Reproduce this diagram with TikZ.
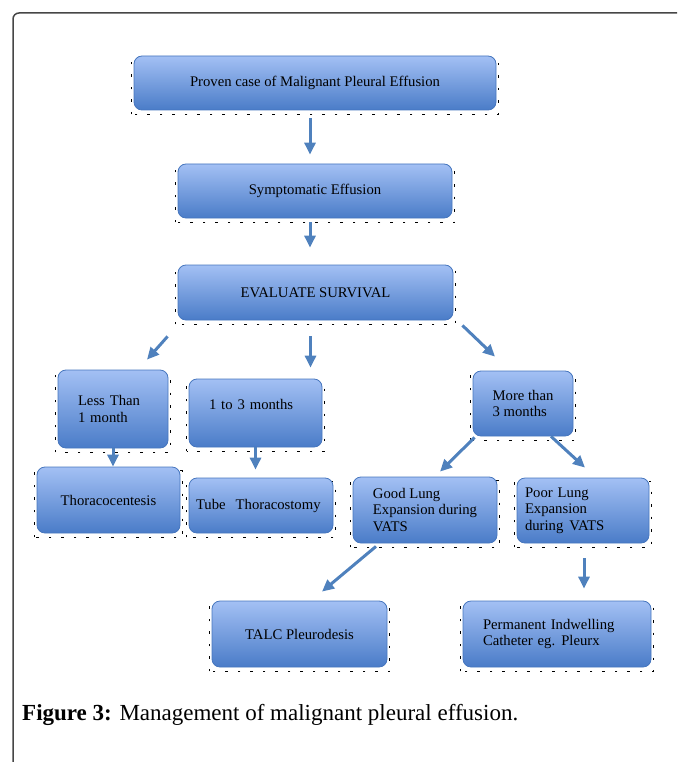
\documentclass[tikz,border=0pt]{standalone}
\usepackage{fontspec}
\setmainfont{Liberation Serif}
\usepackage{tikz}
\usetikzlibrary{arrows.meta,positioning,backgrounds}
\definecolor{boxtop}{RGB}{163,192,244}
\definecolor{boxbot}{RGB}{74,124,200}
\definecolor{boxline}{RGB}{70,118,190}
\definecolor{arrowblue}{RGB}{79,129,189}
\definecolor{framegray}{RGB}{70,70,70}

\begin{document}
\begin{tikzpicture}[x=1pt, y=-1pt,
    box/.style={draw=boxline, line width=0.8pt, rounded corners=8pt, top color=boxtop, bottom color=boxbot, font=\fontsize{14.7}{16.5}\selectfont, inner sep=0pt},
    arr/.style={-{Triangle[length=12pt,width=11pt]}, draw=arrowblue, line width=3pt},
    dotbox/.style={black, line width=1.4pt, dash pattern=on 2.5pt off 10pt}]
    \useasboundingbox (0,0) rectangle (677,762);

    % outer frame
    \draw[framegray, line width=1.5pt, rounded corners=6pt] (13,762) -- (13,13) -- (677,13);

    % boxes
    \node (pc) [box, minimum width=362pt, minimum height=54pt] at (315,83) {Proven case of Malignant Pleural Effusion};
    \node (se) [box, minimum width=274pt, minimum height=54pt] at (315,191) {Symptomatic Effusion};
    \node (es) [box, minimum width=275pt, minimum height=55pt] at (315.5,292.5) {\raisebox{-6pt}{EVALUATE SURVIVAL}};

    \node (lt) [box, minimum width=110pt, minimum height=78pt, text width=70pt, align=left] at (113,409) {Less Than\\1 month};
    \node (ot) [box, minimum width=133pt, minimum height=68pt, text width=93pt, align=left] at (255.5,413) {1 to 3 months\\\mbox{}};
    \node (mt) [box, minimum width=100pt, minimum height=65pt, align=left] at (523,403.5) {More than\\3 months};

    \node (tc) [box, minimum width=143pt, minimum height=66pt] at (108.5,500) {Thoracocentesis};
    \node (tt) [box, minimum width=144pt, minimum height=55pt, text width=130pt, align=left] at (261,505.5) {Tube\hspace{10pt}Thoracostomy};
    \node (gl) [box, minimum width=144pt, minimum height=66pt, align=left] at (425,510) {Good Lung\\Expansion during\\VATS};
    \node (pl) [box, minimum width=132pt, minimum height=65pt, text width=116pt, align=left] at (583,510.5) {Poor Lung\\Expansion\\during\hspace{6pt}VATS};

    \node (talc) [box, minimum width=175pt, minimum height=66pt] at (299.5,634) {TALC Pleurodesis};
    \node (pic) [box, minimum width=188pt, minimum height=66pt, text width=148pt, align=left] at (557,634) {Permanent Indwelling\\Catheter eg.\hspace{6pt}Pleurx};

    % dotted edges behind the boxes
    \begin{scope}[on background layer]
        \foreach \n in {pc,se,es,lt,ot,mt,tc,tt,gl,pl,talc,pic}
            \draw[dotbox] ([shift={(-2,4)}]\n.south west) rectangle ([shift={(2,4)}]\n.north east);
    \end{scope}

    % arrows
    \draw[arr, shorten <=8pt, shorten >=9pt] ([xshift=-5pt]pc.south) -- ([xshift=-5pt]se.north);
    \draw[arr, shorten <=4pt, shorten >=17pt] ([xshift=-5pt]se.south) -- ([xshift=-5.5pt]es.north);
    \draw[arr] ([shift={(-10,16)}]es.south west) -- ([shift={(34,-10)}]lt.north);
    \draw[arr] ([shift={(-5,16)}]es.south) -- ([shift={(55,-11)}]ot.north);
    \draw[arr] ([shift={(9,5)}]es.south east) -- ([shift={(-28,-14)}]mt.north);

    \draw[arr] (lt.south) -- (lt.south |- tc.north);
    \draw[arr, shorten >=8pt] (ot.south) -- (ot.south |- tt.north);
    \draw[arr] ([shift={(2,1)}]mt.south west) -- ([shift={(15,-5)}]gl.north);
    \draw[arr] ([xshift=28pt]mt.south) -- ([shift={(2,-10)}]pl.north);

    \draw[arr] ([shift={(-49,3)}]gl.south) -- ([shift={(22.5,-9)}]talc.north);
    \draw[arr, shorten <=15pt, shorten >=12pt] ([xshift=1pt]pl.south) -- ([xshift=1pt]pl.south |- pic.north);

    % caption
    \node (cap) [anchor=west, inner sep=0pt, font=\fontsize{23}{27}\selectfont] at (22,715) {\textbf{Figure 3:} Management of malignant pleural effusion.};
\end{tikzpicture}
\end{document}
